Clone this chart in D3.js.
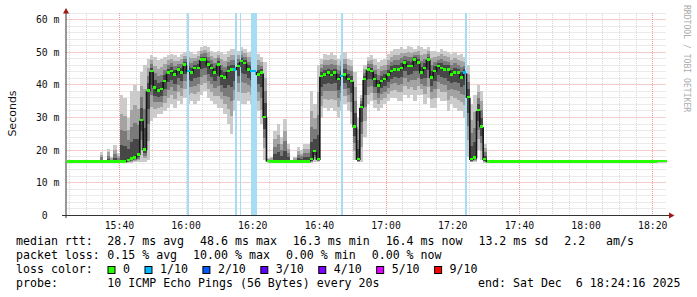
<!DOCTYPE html>
<html>
<head>
<meta charset="utf-8">
<script src="https://cdn.jsdelivr.net/npm/d3@7"></script>
<style>
  body { margin: 0; background: #fff; }
  svg text { font-family: "DejaVu Sans Mono", monospace; white-space: pre; }
</style>
</head>
<body>
<div id="chart"></div>
<script>
// time window of the graph
const startTime = "2025-12-06 15:24:16";
const endTime = "2025-12-06 18:24:16";

// one value per minute (ms)
const median = [
  16.3,16.3,16.3,16.3,16.3,16.3,16.3,16.3,16.3,16.3,
  16.3,16.3,16.3,16.3,16.3,16.3,16.3,16.3,16.8,17.2,
  17.5,18.5,29,20,38,44,39,38,38.5,41,
  43.5,44,43,44.5,43.5,46,44,43.5,45,45,
  47.5,47.5,46,45,43.5,46,42.5,42,44,44.5,
  44.5,45.5,47,46.5,44.5,44,44,43,43.5,30,
  16.5,16.3,16.3,16.3,16.3,16.3,16.3,16.3,16.3,16.3,
  16.3,16.3,16.3,17,19.5,17,42.5,43,43.5,42.8,
  43.5,41.5,42.5,43,41.5,41,27,17,33,41.5,
  44.5,44,41.5,39.5,41,41.5,43,44,44.5,44.5,
  45,46.6,45.5,45.5,47.6,46.6,43.5,45,47.6,42,
  44,45.5,45,44.5,44.5,43,43.5,43.5,42,43.5,
  36,17,17.5,32,27,17,16.3,16.3,16.3,16.3,
  16.3,16.3,16.3,16.3,16.3,16.3,16.3,16.3,16.3,16.3,
  16.3,16.3,16.3,16.3,16.3,16.3,16.3,16.3,16.3,16.3,
  16.3,16.3,16.3,16.3,16.3,16.3,16.3,16.3,16.3,16.3,
  16.3,16.3,16.3,16.3,16.3,16.3,16.3,16.3,16.3,16.3,
  16.3,16.3,16.3,16.3,16.3,16.3,16.3,16.4,16.4,16.4
];
// lowest and highest ping of each minute (edges of the smoke)
const smokeLo = [
  16.2,16.2,16.2,16.2,16.2,16.2,16.2,16.2,16.2,16.2,
  16.2,16.2,16.2,16.2,16.2,16.2,16.2,16.2,16.2,16.2,
  16.3,16.3,16.5,16.5,17,29,30,31,31,32,
  33,34,33,35,34,36,34,35,34,35,
  37,38,36,35,34,33,33,31,28,25,
  32,35,34,34,35,34,33,32,28,17,
  16.2,16.2,16.2,16.2,16.2,16.2,16.2,16.2,16.2,16.2,
  16.2,16.2,16.2,16.2,16.3,16.5,30,33,32,33,
  32,30,32,34,32,28,17,16.3,16.5,24,
  34,35,33,32,33,34,35,36,36,35,
  35,37,36,37,35,37,37,34,36,33,
  33,36,35,35,32,34,33,32,32,30,
  18,16.3,16.4,20,17,16.2,16.2,16.2,16.2,16.2,
  16.2,16.2,16.2,16.2,16.2,16.2,16.2,16.2,16.2,16.2,
  16.2,16.2,16.2,16.2,16.2,16.2,16.2,16.2,16.2,16.2,
  16.2,16.2,16.2,16.2,16.2,16.2,16.2,16.2,16.2,16.2,
  16.2,16.2,16.2,16.2,16.2,16.2,16.2,16.2,16.2,16.2,
  16.2,16.2,16.2,16.2,16.2,16.2,16.2,16.2,16.2,16.2
];
const smokeHi = [
  16.4,16.4,16.4,16.4,16.4,16.4,16.4,16.4,16.4,16.4,
  19.5,17,20.5,18,21.5,19,37,36,30,38,
  40,38,44,46,48,49,48.5,47.5,48,48.5,
  49,49.5,49,48.5,49.5,50,50.5,50,49.5,50.5,
  51.5,52,51.5,50.5,50,50.5,50,49.5,50.5,51,
  51,50.5,51.5,51,50,50.5,50,49.5,48.5,47,
  17.6,18,26,28,24,29.6,22,17,18,21,
  20,22,22,38,34,46,48,49.5,49,50,
  49,48,49,50,48,47.5,44,30,37,46,
  48.5,49,48,47,47.5,48,49.5,50.5,51,51,
  51.5,51,52,51.5,51,52,51.5,51,51.5,50.5,
  50.5,50,51,50.5,50,49.5,50,49,49.5,48.5,
  46,34,37,40,38,22,16.8,16.4,16.4,16.4,
  16.4,16.4,16.4,16.4,16.4,16.4,16.4,16.4,16.4,16.4,
  16.4,16.9,16.4,16.4,16.4,16.4,16.4,16.4,16.4,16.4,
  16.4,16.4,16.4,16.4,16.4,16.4,16.4,16.4,16.4,16.4,
  16.4,16.4,16.4,16.4,16.4,16.4,16.4,16.4,16.4,16.4,
  16.4,16.4,16.4,16.4,16.4,16.4,16.4,16.4,16.4,16.4
];

// periods with 1/10 packet loss: start, duration in seconds
const lossStart = ["16:00:16", "16:14:44", "16:16:10", "16:19:40", "16:46:28", "17:23:40"];
const lossSeconds = [36, 44, 30, 96, 36, 48];

const yTicks = [0, 10, 20, 30, 40, 50, 60];
const yTickLabels = ["0  ", "10 m", "20 m", "30 m", "40 m", "50 m", "60 m"];
const xTickLabels = ["15:40", "16:00", "16:20", "16:40", "17:00", "17:20", "17:40", "18:00", "18:20"];
const xMajorGrid = ["15:40", "16:20", "17:00", "17:40", "18:20"];

const lossLevels = ["0", "1/10", "2/10", "3/10", "4/10", "5/10", "9/10"];
const lossColors = ["#26ff00", "#00b8ff", "#0059ff", "#5e00ff", "#7e00ff", "#dd00ff", "#ff0000"];
const rttStats = ["28.7 ms avg", "48.6 ms max", "16.3 ms min", "16.4 ms now", "13.2 ms sd", "2.2   am/s"];
const lossStats = ["0.15 % avg", "10.00 % max", "0.00 % min", "0.00 % now"];
const probeText = "10 ICMP Echo Pings (56 Bytes) every 20s";
const endText = "end: Sat Dec  6 18:24:16 2025";

const parseFull = d3.timeParse("%Y-%m-%d %H:%M:%S");
const t0 = parseFull(startTime), t1 = parseFull(endTime);
const clock = s => parseFull(startTime.slice(0, 11) + (s.length === 5 ? s + ":00" : s));

const svg = d3.select("#chart").append("svg")
  .attr("width", 697)
  .attr("height", 297)
  .attr("style", "background-color: white");

const x = d3.scaleTime().domain([t0, t1]).range([66.5, 666.5]);
const y = d3.scaleLinear().domain([0, 62]).range([215.5, 13]);
const plotTop = y(62), plotBottom = y(0);

const samples = median.map((m, i) => ({
  a: d3.timeMinute.offset(t0, i),
  b: d3.timeMinute.offset(t0, i + 1),
  med: m, lo: smokeLo[i], hi: smokeHi[i],
  prev: median[Math.max(0, i - 1)], next: median[Math.min(median.length - 1, i + 1)]
}));
const losses = lossStart.map((s, i) => ({a: clock(s), b: d3.timeSecond.offset(clock(s), lossSeconds[i])}));
const inLoss = s => {
  const mid = (+s.a + +s.b) / 2;
  return losses.some(l => mid >= +l.a && mid <= +l.b);
};

// grid
const grid = svg.append("g").attr("fill", "none").attr("stroke-dasharray", "1,1");
const minorY = d3.range(2, 63, 2).filter(v => v % 10 !== 0);
grid.selectAll(".gy").data(minorY).join("line")
  .attr("x1", 66.5).attr("x2", 666.5)
  .attr("y1", d => Math.floor(y(d)) + 0.5).attr("y2", d => Math.floor(y(d)) + 0.5)
  .attr("stroke", "#d6d6d6");
const majorX = xMajorGrid.map(clock);
const minorX = d3.timeMinute.every(5).range(t0, t1).filter(t => !majorX.some(m => +m === +t));
grid.selectAll(".gx").data(minorX).join("line")
  .attr("x1", d => Math.round(x(d)) + 0.5).attr("x2", d => Math.round(x(d)) + 0.5)
  .attr("y1", plotTop).attr("y2", plotBottom)
  .attr("stroke", "#d6d6d6");
grid.selectAll(".my").data(yTicks.slice(1)).join("line")
  .attr("x1", 66.5).attr("x2", 666.5)
  .attr("y1", d => Math.floor(y(d)) + 0.5).attr("y2", d => Math.floor(y(d)) + 0.5)
  .attr("stroke", "#ef9a9a");
grid.selectAll(".mx").data(majorX).join("line")
  .attr("x1", d => Math.round(x(d)) + 0.5).attr("x2", d => Math.round(x(d)) + 0.5)
  .attr("y1", plotTop).attr("y2", plotBottom)
  .attr("stroke", "#ef9a9a");

// smoke: bands from the outer edges in towards the median
const bands = [[1.0, "#cbcbcb"], [0.72, "#a3a3a3"], [0.48, "#7a7a7a"], [0.26, "#474747"]];
const smoke = svg.append("g").attr("shape-rendering", "crispEdges");
bands.forEach(([f, col]) => {
  smoke.append("g").selectAll("rect").data(samples).join("rect")
    .attr("x", d => x(d.a))
    .attr("width", d => x(d.b) - x(d.a))
    .attr("y", d => y(d.med + (d.hi - d.med) * f))
    .attr("height", d => y(d.med - (d.med - d.lo) * f) - y(d.med + (d.hi - d.med) * f))
    .attr("fill", col);
});

// loss background
svg.append("g").attr("shape-rendering", "crispEdges")
  .selectAll("rect").data(losses).join("rect")
  .attr("x", d => x(d.a))
  .attr("width", d => Math.max(1.5, x(d.b) - x(d.a)))
  .attr("y", plotTop).attr("height", plotBottom - plotTop)
  .attr("fill", "#a6ddf5");

// median: dark joins plus coloured steps (short dashes where it jumps)
svg.append("g").selectAll("line").data(samples.slice(1)).join("line")
  .attr("x1", d => x(d.a)).attr("x2", d => x(d.a))
  .attr("y1", (d, i) => y(samples[i].med)).attr("y2", d => y(d.med))
  .attr("stroke", "#141414").attr("stroke-width", 1.6);
const steady = d => Math.abs(d.med - d.prev) < 0.4 && Math.abs(d.med - d.next) < 0.4;
svg.append("g").attr("shape-rendering", "crispEdges")
  .selectAll("rect").data(samples).join("rect")
  .attr("x", d => steady(d) ? x(d.a) : (x(d.a) + x(d.b)) / 2 - 1.5)
  .attr("width", d => steady(d) ? x(d.b) - x(d.a) : 3)
  .attr("y", d => y(d.med) - 2)
  .attr("height", 2.5)
  .attr("fill", d => inLoss(d) ? lossColors[1] : lossColors[0]);

// axes
const ax = svg.append("g");
ax.append("line").attr("x1", 66).attr("x2", 66).attr("y1", 12).attr("y2", 218)
  .attr("stroke", "#333").attr("stroke-width", 1);
ax.append("line").attr("x1", 62).attr("x2", 670).attr("y1", 215.5).attr("y2", 215.5)
  .attr("stroke", "#333").attr("stroke-width", 1);
ax.append("path").attr("d", "M63,13.5 L66,8 L69,13.5 Z").attr("fill", "#a01818");
ax.append("path").attr("d", "M669,212.5 L674.5,215.5 L669,218.5 Z").attr("fill", "#a01818");

ax.selectAll(".yl").data(yTicks).join("text")
  .attr("x", 59.5).attr("y", d => y(d) + 3.6)
  .attr("text-anchor", "end").attr("font-size", "9.8px").attr("fill", "#111")
  .text((d, i) => yTickLabels[i]);
ax.selectAll(".xl").data(xTickLabels).join("text")
  .attr("x", d => x(clock(d)) + 0.5).attr("y", 228.5)
  .attr("text-anchor", "middle").attr("font-size", "9.8px").attr("fill", "#111")
  .text(d => d);

svg.append("text")
  .attr("transform", "translate(15.5,113.5) rotate(-90)")
  .attr("text-anchor", "middle")
  .style("font-family", "'DejaVu Sans', sans-serif")
  .attr("font-size", "11px").attr("fill", "#111")
  .text("Seconds");

svg.append("text")
  .attr("transform", "translate(683.5,5) rotate(90)")
  .attr("font-size", "8.1px").attr("fill", "#acacac")
  .text("RRDTOOL / TOBI OETIKER");

// legend
const legendFont = "11.6px";
const rowY = [245.2, 259.1, 273, 286.9];
const colX = 107.3, gap = 16;
function row(label, parts, yy) {
  const g = svg.append("g").attr("font-size", legendFont).attr("fill", "#000");
  g.append("text").attr("x", 16).attr("y", yy).text(label);
  let cx = colX;
  parts.forEach(p => {
    const t = g.append("text").attr("x", cx).attr("y", yy).text(p);
    cx += t.node().getComputedTextLength() + gap;
  });
}
row("median rtt:", rttStats, rowY[0]);
row("packet loss:", lossStats, rowY[1]);

const lg = svg.append("g").attr("font-size", legendFont).attr("fill", "#000");
lg.append("text").attr("x", 16).attr("y", rowY[2]).text("loss color:");
let cur = 107.5;
lossLevels.forEach((lv, i) => {
  lg.append("rect").attr("x", cur + 0.5).attr("y", rowY[2] - 6.5)
    .attr("width", 7).attr("height", 7)
    .attr("fill", lossColors[i]).attr("stroke", "#000").attr("stroke-width", 1);
  const t = lg.append("text").attr("x", cur + 15.5).attr("y", rowY[2]).text(lv);
  cur += 15.5 + t.node().getComputedTextLength() + 14.5;
});

lg.append("text").attr("x", 16).attr("y", rowY[3]).text("probe:");
lg.append("text").attr("x", colX).attr("y", rowY[3]).text(probeText);
lg.append("text").attr("x", 680.5).attr("y", rowY[3]).attr("text-anchor", "end").text(endText);
</script>
</body>
</html>
